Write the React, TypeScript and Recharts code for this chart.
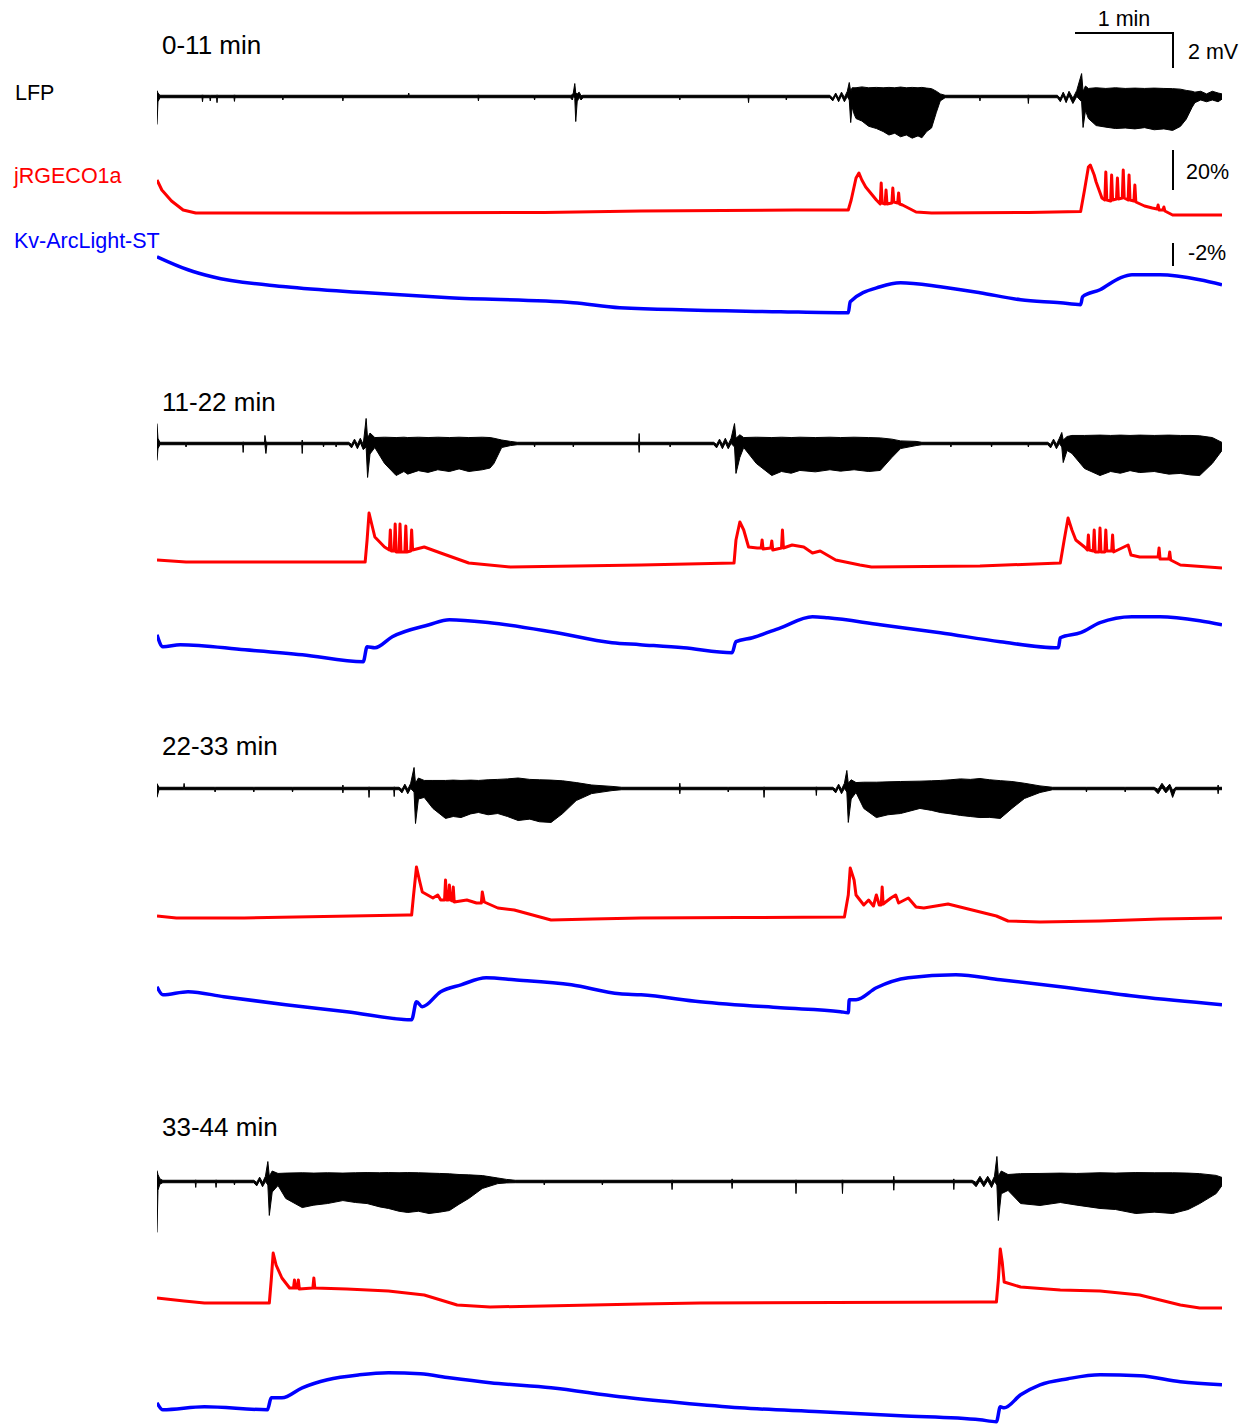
import React from 'react';
import { ComposedChart, Area, Line, XAxis, YAxis } from 'recharts';

// ---------- DATA (time in min within each 11-min window) ----------
const PANEL_TITLES = ['0-11 min', '11-22 min', '22-33 min', '33-44 min'];
const TRACE_NAMES = ['LFP', 'jRGECO1a', 'Kv-ArcLight-ST'];
const SCALE_LABELS = ['1 min', '2 mV', '20%', '-2%'];

// LFP envelopes: [t (min), low (mV), high (mV)]
const lfp1 = [
  [0, -1.6, 0.34], [0.01, -0.3, 0.2], [0.03, -0.07, 0.07],
  [0.465, -0.07, 0.07], [0.47, -0.3, 0.1], [0.475, -0.07, 0.07],
  [0.545, -0.07, 0.07], [0.55, -0.25, 0.07], [0.555, -0.07, 0.07],
  [0.615, -0.07, 0.07], [0.62, -0.35, 0.1], [0.625, -0.07, 0.07],
  [0.795, -0.07, 0.07], [0.8, -0.28, 0.1], [0.805, -0.07, 0.07],
  [1.295, -0.07, 0.07], [1.3, -0.2, 0.07], [1.305, -0.07, 0.07],
  [1.915, -0.07, 0.07], [1.92, -0.25, 0.08], [1.925, -0.07, 0.07],
  [2.595, -0.07, 0.07], [2.6, -0.07, 0.2], [2.605, -0.07, 0.07],
  [3.315, -0.07, 0.07], [3.32, -0.25, 0.1], [3.325, -0.07, 0.07],
  [3.895, -0.07, 0.07], [3.9, -0.2, 0.07], [3.905, -0.07, 0.07],
  [4.27, -0.07, 0.07], [4.29, -0.2, 0.1], [4.3, 0, 0.2], [4.315, -0.1, 0.74], [4.325, -1.43, 0.2], [4.34, -0.3, 0.15],
  [4.36, -0.05, 0.25], [4.38, -0.2, 0.05], [4.4, -0.07, 0.07],
  [5.395, -0.07, 0.07], [5.4, -0.2, 0.07], [5.405, -0.07, 0.07],
  [6.105, -0.07, 0.07], [6.11, -0.35, 0.08], [6.115, -0.07, 0.07],
  [6.495, -0.07, 0.07], [6.5, -0.2, 0.07], [6.505, -0.07, 0.07],
  [6.95, -0.07, 0.07], [6.98, -0.25, -0.1], [7.01, 0.05, 0.2], [7.04, -0.3, -0.1], [7.07, 0.05, 0.25], [7.1, -0.3, -0.05], [7.13, 0.0, 0.3],
  [7.15, -0.2, 0.8], [7.165, -1.49, 0.3], [7.18, -0.6, 0.5],
  [7.2, -1.0, 0.5], [7.22, -1.26, 0.5], [7.28, -1.4, 0.55], [7.35, -1.7, 0.5], [7.43, -1.83, 0.52], [7.5, -2.0, 0.5], [7.56, -2.2, 0.52],
  [7.62, -2.1, 0.5], [7.68, -2.3, 0.54], [7.74, -2.2, 0.5], [7.8, -2.38, 0.52], [7.86, -2.25, 0.5], [7.9, -2.36, 0.52], [7.95, -2.0, 0.48],
  [8.0, -1.8, 0.45], [8.05, -0.9, 0.3], [8.09, -0.25, 0.15], [8.14, -0.07, 0.07],
  [8.495, -0.07, 0.07], [8.5, -0.25, 0.07], [8.505, -0.07, 0.07],
  [8.995, -0.07, 0.07], [9.0, -0.4, 0.1], [9.005, -0.07, 0.07],
  [9.3, -0.07, 0.07], [9.33, -0.3, -0.1], [9.36, 0.05, 0.25], [9.39, -0.35, -0.1], [9.42, 0.05, 0.3], [9.46, -0.4, -0.1], [9.5, 0.0, 0.35],
  [9.55, -0.3, 1.31], [9.565, -1.77, 0.3], [9.59, -0.8, 0.6],
  [9.62, -1.26, 0.46], [9.7, -1.66, 0.5], [9.8, -1.75, 0.46], [9.9, -1.83, 0.5], [10.0, -1.8, 0.46], [10.1, -1.85, 0.48], [10.2, -1.78, 0.46],
  [10.3, -1.9, 0.48], [10.4, -1.85, 0.46], [10.49, -1.94, 0.45], [10.57, -1.71, 0.42], [10.63, -1.3, 0.35], [10.69, -0.63, 0.3],
  [10.72, -0.35, 0.25], [10.78, -0.2, 0.3], [10.84, -0.3, 0.15], [10.9, -0.2, 0.3], [10.96, -0.3, 0.2], [11, -0.15, 0.15],
];
const lfp2 = [
  [0, -0.97, 1.14], [0.01, -0.3, 0.3], [0.03, -0.07, 0.07],
  [0.295, -0.07, 0.07], [0.3, -0.2, 0.07], [0.305, -0.07, 0.07],
  [0.885, -0.07, 0.07], [0.89, -0.51, 0.1], [0.895, -0.07, 0.07],
  [1.11, -0.07, 0.07], [1.115, -0.1, 0.46], [1.125, -0.57, 0.1], [1.135, -0.07, 0.07],
  [1.495, -0.07, 0.07], [1.5, -0.57, 0.2], [1.505, -0.07, 0.07],
  [1.715, -0.07, 0.07], [1.72, -0.2, 0.07], [1.725, -0.07, 0.07],
  [1.845, -0.07, 0.07], [1.85, -0.2, 0.07], [1.855, -0.07, 0.07],
  [1.98, -0.07, 0.07], [2.01, -0.25, -0.05], [2.04, 0.05, 0.25], [2.07, -0.3, -0.05], [2.1, 0.05, 0.3], [2.13, -0.35, -0.05],
  [2.16, -0.2, 1.43], [2.175, -1.94, 0.3], [2.2, -0.6, 0.6],
  [2.25, -0.23, 0.34], [2.35, -1.14, 0.36], [2.47, -1.83, 0.34], [2.55, -1.6, 0.36], [2.59, -1.75, 0.34], [2.7, -1.55, 0.36], [2.8, -1.65, 0.34],
  [2.9, -1.5, 0.36], [3.02, -1.6, 0.34], [3.12, -1.45, 0.36], [3.22, -1.6, 0.34], [3.36, -1.5, 0.36], [3.44, -1.4, 0.34], [3.48, -1.14, 0.3],
  [3.56, -0.23, 0.2], [3.65, -0.12, 0.12], [3.72, -0.07, 0.07],
  [3.895, -0.07, 0.07], [3.9, -0.2, 0.07], [3.905, -0.07, 0.07],
  [4.295, -0.07, 0.07], [4.3, -0.2, 0.07], [4.305, -0.07, 0.07],
  [4.975, -0.07, 0.07], [4.98, -0.51, 0.57], [4.985, -0.07, 0.07],
  [5.295, -0.07, 0.07], [5.3, -0.2, 0.07], [5.305, -0.07, 0.07],
  [5.75, -0.07, 0.07], [5.78, -0.25, -0.05], [5.81, 0.05, 0.25], [5.84, -0.3, -0.05], [5.87, 0.05, 0.3], [5.9, -0.3, -0.05], [5.93, 0.0, 0.3],
  [5.965, -0.2, 1.14], [5.98, -1.71, 0.3], [6.02, -0.8, 0.5],
  [6.06, -0.23, 0.34], [6.19, -1.14, 0.36], [6.35, -1.83, 0.34], [6.45, -1.6, 0.36], [6.55, -1.7, 0.34], [6.64, -1.54, 0.36], [6.8, -1.62, 0.34],
  [6.95, -1.5, 0.36], [7.06, -1.58, 0.34], [7.2, -1.5, 0.36], [7.35, -1.6, 0.34], [7.47, -1.54, 0.32], [7.59, -0.8, 0.25], [7.68, -0.29, 0.15],
  [7.84, -0.12, 0.12], [7.9, -0.07, 0.07],
  [8.195, -0.07, 0.07], [8.2, -0.2, 0.07], [8.205, -0.07, 0.07],
  [8.615, -0.07, 0.07], [8.62, -0.2, 0.07], [8.625, -0.07, 0.07],
  [8.995, -0.07, 0.07], [9.0, -0.2, 0.07], [9.005, -0.07, 0.07],
  [9.2, -0.07, 0.07], [9.23, -0.25, -0.05], [9.26, 0.05, 0.25], [9.29, -0.3, -0.05], [9.32, 0.0, 0.3],
  [9.345, -0.2, 0.63], [9.36, -1.09, 0.2], [9.4, -0.4, 0.4],
  [9.45, -0.57, 0.46], [9.58, -1.43, 0.46], [9.74, -1.83, 0.48], [9.85, -1.6, 0.46], [9.95, -1.7, 0.48], [10.05, -1.55, 0.46], [10.15, -1.66, 0.48],
  [10.3, -1.6, 0.46], [10.45, -1.75, 0.48], [10.57, -1.71, 0.46], [10.68, -1.8, 0.46], [10.77, -1.83, 0.44], [10.9, -1.14, 0.34], [11, -0.4, 0.06],
];
const lfp3 = [
  [0, -0.51, 0.29], [0.02, -0.07, 0.07],
  [0.275, -0.07, 0.07], [0.28, -0.07, 0.29], [0.285, -0.07, 0.07],
  [0.595, -0.07, 0.07], [0.6, -0.2, 0.07], [0.605, -0.07, 0.07],
  [0.995, -0.07, 0.07], [1.0, -0.2, 0.07], [1.005, -0.07, 0.07],
  [1.395, -0.07, 0.07], [1.4, -0.2, 0.07], [1.405, -0.07, 0.07],
  [1.915, -0.07, 0.07], [1.92, -0.25, 0.2], [1.925, -0.07, 0.07],
  [2.185, -0.07, 0.07], [2.19, -0.51, 0.1], [2.195, -0.07, 0.07],
  [2.445, -0.07, 0.07], [2.45, -0.46, 0.1], [2.455, -0.07, 0.07],
  [2.5, -0.07, 0.07], [2.53, -0.25, -0.05], [2.56, 0.05, 0.25], [2.59, -0.3, -0.05], [2.62, 0.0, 0.3],
  [2.655, -0.2, 1.2], [2.67, -2.0, 0.3], [2.7, -0.6, 0.6],
  [2.76, -0.51, 0.46], [2.85, -1.14, 0.46], [2.98, -1.71, 0.46], [3.06, -1.6, 0.48], [3.14, -1.66, 0.46], [3.24, -1.45, 0.48], [3.32, -1.37, 0.46],
  [3.42, -1.5, 0.5], [3.52, -1.43, 0.52], [3.62, -1.6, 0.55], [3.73, -1.83, 0.6], [3.85, -1.75, 0.52], [3.95, -1.9, 0.5], [4.07, -1.94, 0.48],
  [4.19, -1.43, 0.44], [4.33, -0.69, 0.34], [4.49, -0.29, 0.2], [4.7, -0.12, 0.12], [4.8, -0.07, 0.07],
  [5.395, -0.07, 0.07], [5.4, -0.3, 0.3], [5.405, -0.07, 0.07],
  [5.895, -0.07, 0.07], [5.9, -0.2, 0.07], [5.905, -0.07, 0.07],
  [6.265, -0.07, 0.07], [6.27, -0.51, 0.1], [6.275, -0.07, 0.07],
  [6.805, -0.07, 0.07], [6.81, -0.4, 0.1], [6.815, -0.07, 0.07],
  [6.98, -0.07, 0.07], [7.01, -0.25, -0.05], [7.04, 0.05, 0.25], [7.07, -0.3, -0.05], [7.1, 0.0, 0.3],
  [7.125, -0.2, 1.03], [7.14, -1.94, 0.3], [7.17, -0.6, 0.5],
  [7.22, -0.23, 0.34], [7.3, -1.14, 0.36], [7.43, -1.66, 0.36], [7.55, -1.5, 0.38], [7.68, -1.43, 0.4], [7.88, -1.14, 0.42], [8.0, -1.25, 0.44],
  [8.09, -1.37, 0.46], [8.2, -1.45, 0.5], [8.3, -1.54, 0.55], [8.4, -1.6, 0.52], [8.5, -1.66, 0.57], [8.6, -1.65, 0.5], [8.71, -1.71, 0.45],
  [8.83, -1.14, 0.4], [8.96, -0.57, 0.3], [9.12, -0.23, 0.15], [9.25, -0.07, 0.07],
  [9.595, -0.07, 0.07], [9.6, -0.2, 0.07], [9.605, -0.07, 0.07],
  [9.995, -0.07, 0.07], [10.0, -0.2, 0.07], [10.005, -0.07, 0.07],
  [10.3, -0.07, 0.07], [10.34, -0.3, -0.05], [10.38, 0.05, 0.3], [10.42, -0.25, 0.0], [10.46, 0.0, 0.25], [10.49, -0.51, -0.1], [10.52, -0.07, 0.07],
  [10.955, -0.07, 0.07], [10.96, -0.3, 0.2], [10.965, -0.07, 0.07], [11, -0.07, 0.07],
];
const lfp4 = [
  [0, -2.91, 0.63], [0.01, -0.5, 0.4], [0.03, -0.15, 0.15], [0.06, -0.07, 0.07],
  [0.395, -0.07, 0.07], [0.4, -0.34, 0.1], [0.405, -0.07, 0.07],
  [0.605, -0.07, 0.07], [0.61, -0.34, 0.1], [0.615, -0.07, 0.07],
  [0.795, -0.07, 0.07], [0.8, -0.2, 0.07], [0.805, -0.07, 0.07],
  [1.0, -0.07, 0.07], [1.03, -0.25, -0.05], [1.06, 0.05, 0.25], [1.09, -0.3, -0.05], [1.12, 0.0, 0.3],
  [1.145, -0.2, 1.14], [1.16, -1.94, 0.3], [1.19, -0.6, 0.6],
  [1.25, -0.23, 0.46], [1.33, -0.97, 0.48], [1.5, -1.49, 0.5], [1.62, -1.35, 0.48], [1.76, -1.26, 0.5], [1.92, -1.09, 0.48], [2.05, -1.2, 0.5],
  [2.17, -1.26, 0.51], [2.3, -1.45, 0.5], [2.39, -1.54, 0.51], [2.5, -1.7, 0.5], [2.59, -1.77, 0.51], [2.7, -1.7, 0.5], [2.81, -1.83, 0.48],
  [2.92, -1.75, 0.46], [3.02, -1.66, 0.44], [3.12, -1.3, 0.4], [3.22, -0.97, 0.38], [3.36, -0.4, 0.34], [3.52, -0.12, 0.2], [3.61, -0.08, 0.12],
  [3.7, -0.07, 0.07],
  [3.995, -0.07, 0.07], [4.0, -0.2, 0.07], [4.005, -0.07, 0.07],
  [4.595, -0.07, 0.07], [4.6, -0.2, 0.07], [4.605, -0.07, 0.07],
  [5.315, -0.07, 0.07], [5.32, -0.46, 0.1], [5.325, -0.07, 0.07],
  [5.935, -0.07, 0.07], [5.94, -0.4, 0.15], [5.945, -0.07, 0.07],
  [6.595, -0.07, 0.07], [6.6, -0.69, 0.1], [6.605, -0.07, 0.07],
  [7.075, -0.07, 0.07], [7.08, -0.69, 0.1], [7.085, -0.07, 0.07],
  [7.605, -0.07, 0.07], [7.61, -0.5, 0.3], [7.615, -0.07, 0.07],
  [8.225, -0.07, 0.07], [8.23, -0.46, 0.15], [8.235, -0.07, 0.07],
  [8.42, -0.07, 0.07], [8.46, -0.3, -0.05], [8.5, 0.05, 0.3], [8.54, -0.3, -0.05], [8.58, 0.05, 0.3], [8.62, -0.35, -0.05], [8.65, 0.0, 0.3],
  [8.675, -0.2, 1.43], [8.69, -2.23, 0.3], [8.72, -0.7, 0.6],
  [8.79, -0.51, 0.4], [8.92, -1.26, 0.45], [9.12, -1.37, 0.46], [9.33, -1.2, 0.48], [9.5, -1.35, 0.46], [9.74, -1.54, 0.5], [9.9, -1.6, 0.48],
  [10.11, -1.83, 0.51], [10.3, -1.75, 0.5], [10.49, -1.83, 0.5], [10.65, -1.6, 0.48], [10.77, -1.26, 0.45], [10.94, -0.69, 0.35], [11, -0.23, 0.23],
];

// jRGECO1a dF/F (%): [t, value]
const red1 = [
  [0, 16], [0.05, 11], [0.15, 5.5], [0.27, 1], [0.4, -0.5], [2, -0.5], [4, -0.2], [5, 0.5], [6.6, 1], [7.14, 1], [7.17, 6], [7.22, 17],
  [7.25, 19.5], [7.28, 16], [7.32, 12.5], [7.43, 6], [7.47, 4], [7.48, 14.5], [7.49, 4.5], [7.52, 4], [7.53, 11], [7.54, 4], [7.59, 4.5],
  [7.6, 12], [7.61, 5], [7.65, 4.5], [7.66, 9.5], [7.67, 4], [7.7, 3.5], [7.76, 2], [7.84, 0], [8, -0.5], [9, -0.2], [9.54, 0.2], [9.58, 11],
  [9.62, 22.5], [9.64, 23.5], [9.68, 18.5], [9.7, 15], [9.76, 7], [9.79, 6], [9.8, 20], [9.81, 6], [9.85, 5.5], [9.86, 18.5], [9.87, 6],
  [9.91, 6.5], [9.92, 17], [9.93, 6.5], [9.97, 7], [9.98, 21], [9.99, 7], [10.03, 6], [10.04, 18.5], [10.05, 6], [10.09, 5.5], [10.1, 13.5],
  [10.11, 5], [10.2, 3], [10.28, 2], [10.33, 1.5], [10.34, 3.5], [10.35, 1], [10.39, 1], [10.4, 2.5], [10.41, 0.5], [10.49, -1.5], [11, -1.5],
];
const red2 = [
  [0, 1], [0.3, 0], [2.15, 0], [2.17, 11], [2.19, 24.5], [2.22, 18.5], [2.25, 12.5], [2.35, 7.5], [2.4, 6], [2.41, 16], [2.42, 5.5],
  [2.45, 5.5], [2.46, 19], [2.47, 5], [2.5, 5], [2.51, 19], [2.52, 5], [2.56, 5], [2.57, 18], [2.58, 5], [2.62, 5.5], [2.63, 16], [2.64, 6],
  [2.76, 7.5], [2.93, 4.5], [3.22, -0.5], [3.65, -2.5], [5, -1.5], [5.96, -0.5], [5.98, 11], [6.02, 20], [6.06, 16], [6.11, 7.5], [6.2, 7],
  [6.24, 7], [6.25, 11], [6.26, 6.5], [6.34, 7], [6.35, 10.5], [6.36, 6], [6.45, 7], [6.46, 16], [6.47, 7], [6.56, 8.5], [6.68, 7.5],
  [6.77, 4.5], [6.85, 5.5], [7.01, 1], [7.26, -1.5], [7.38, -2.5], [8.5, -2], [9.33, -0.5], [9.37, 11], [9.41, 22], [9.45, 16], [9.49, 11],
  [9.58, 7.5], [9.61, 6], [9.62, 13.5], [9.63, 6], [9.67, 5.5], [9.68, 16], [9.69, 5], [9.73, 5], [9.74, 17], [9.75, 5], [9.79, 5], [9.8, 16],
  [9.81, 5.5], [9.86, 5.5], [9.87, 13.5], [9.88, 5], [10.03, 8.5], [10.06, 3.5], [10.15, 2.5], [10.34, 2.5], [10.35, 7], [10.36, 1.5],
  [10.45, 1.5], [10.46, 5], [10.47, 1], [10.57, -1.5], [11, -3],
];
const red3 = [
  [0, 0.5], [0.2, -0.5], [0.9, -0.5], [2.59, 1], [2.63, 1], [2.65, 11], [2.68, 25], [2.71, 18.5], [2.74, 12.5], [2.85, 9.5], [2.9, 11],
  [2.93, 8.5], [2.97, 8.5], [2.98, 18.5], [2.99, 8.5], [3.01, 8.5], [3.02, 16], [3.03, 8.5], [3.05, 8], [3.06, 15], [3.07, 7.5], [3.2, 8.5],
  [3.3, 7], [3.35, 7], [3.36, 12.5], [3.38, 7.5], [3.52, 4.5], [3.69, 3.5], [4.07, -1.5], [4.5, -1], [5, -0.5], [6, -0.3], [7.1, 0],
  [7.14, 11], [7.16, 24.5], [7.2, 18.5], [7.22, 11], [7.3, 6], [7.35, 8.5], [7.4, 5.5], [7.43, 11], [7.46, 6], [7.48, 6], [7.49, 15],
  [7.5, 6.5], [7.58, 9.5], [7.63, 11], [7.66, 7], [7.76, 9.5], [7.84, 5], [7.92, 4.5], [8.17, 6.5], [8.42, 3.5], [8.67, 0.5], [8.79, -2],
  [9.12, -2.5], [9.74, -2], [10.36, -1], [11, -0.5],
];
const red4 = [
  [0, 2], [0.28, 0.5], [0.49, -0.5], [1.16, -0.5], [1.18, 11], [1.2, 24.5], [1.23, 18.5], [1.29, 12], [1.37, 7], [1.41, 7], [1.42, 11],
  [1.43, 7], [1.45, 7], [1.46, 11], [1.47, 6.5], [1.61, 7], [1.62, 12], [1.63, 7], [1.96, 6.5], [2.39, 5.5], [2.76, 3.5], [2.93, 1],
  [3.1, -1.5], [3.44, -2.5], [5, -1], [5.61, -0.5], [8.5, 0], [8.67, 0], [8.69, 11], [8.71, 26.5], [8.73, 20], [8.75, 10], [8.92, 7.5],
  [9.33, 6], [9.74, 5.5], [10.15, 3.5], [10.36, 1], [10.57, -1.5], [10.77, -3], [11, -3],
];

// Kv-ArcLight-ST dF/F (%): [t, value]  (negative plotted upward)
const blue1 = [
  [0, -3.74], [0.32, -2.61], [0.57, -2.0], [1.33, -1.13], [2.17, -0.61], [3.02, -0.17], [4.3, 0.26], [4.78, 0.7], [6.44, 1.04], [7.14, 1.13],
  [7.16, 0.17], [7.47, -1.13], [7.68, -1.48], [8.09, -1.13], [8.5, -0.61], [8.92, 0], [9.33, 0.26], [9.54, 0.43], [9.56, -0.26], [9.74, -0.87],
  [9.95, -1.91], [10.07, -2.17], [10.36, -2.17], [10.77, -1.74], [11, -1.3],
];
const blue2 = [
  [0, -0.43], [0.06, 0.61], [0.24, 0.43], [0.91, 0.87], [1.5, 1.3], [2.13, 1.91], [2.17, 0.61], [2.25, 0.7], [2.43, -0.26], [2.81, -1.3],
  [3.02, -1.74], [3.44, -1.48], [4.07, -0.7], [4.7, 0.26], [4.99, 0.43], [5.44, 0.7], [5.94, 1.13], [5.98, 0.17], [6.15, -0.17], [6.44, -1.04],
  [6.77, -2.0], [6.93, -1.91], [7.47, -1.3], [8.09, -0.61], [8.71, 0.17], [9.31, 0.7], [9.33, -0.17], [9.54, -0.61], [9.74, -1.48],
  [10.07, -2.0], [10.36, -2.0], [10.77, -1.65], [11, -1.3],
];
const blue3 = [
  [0, -1.13], [0.06, -0.43], [0.32, -0.7], [0.69, -0.26], [1.33, 0.43], [1.96, 1.04], [2.63, 1.74], [2.68, 0.17], [2.74, 0.61], [2.93, -0.7],
  [3.14, -1.3], [3.4, -1.91], [3.69, -1.74], [4.28, -1.3], [4.78, -0.52], [5.0, -0.43], [5.61, 0.17], [6.44, 0.7], [7.06, 1.04], [7.14, 1.13],
  [7.15, 0], [7.22, 0], [7.43, -1.04], [7.76, -1.91], [8.25, -2.17], [8.71, -1.74], [9.33, -1.13], [10.15, -0.26], [11, 0.43],
];
const blue4 = [
  [0, 0.26], [0.06, 0.87], [0.49, 0.61], [1.14, 0.87], [1.18, -0.17], [1.29, -0.17], [1.5, -1.04], [1.76, -1.74], [2.09, -2.17], [2.39, -2.35],
  [2.72, -2.26], [3.02, -1.91], [3.44, -1.48], [4.07, -1.04], [4.78, -0.26], [5.4, 0.26], [6.02, 0.7], [6.85, 1.04], [7.68, 1.39], [8.5, 1.74],
  [8.67, 1.91], [8.71, 0.61], [8.75, 0.7], [8.92, -0.43], [9.12, -1.3], [9.41, -1.83], [9.74, -2.17], [10.15, -2.09], [10.57, -1.57], [11, -1.3],
];

const LFP = [lfp1, lfp2, lfp3, lfp4];
const RED = [red1, red2, red3, red4];
const BLUE = [blue1, blue2, blue3, blue4];

// ---------- LAYOUT ----------
const W = 1247;
const H = 1427;
const X_LEFT = 157;
const X_RIGHT = 1222;
const T_DOMAIN: [number, number] = [0, 11];
const LFP_K = 17.5; // px per mV
const RED_K = 2; // px per %
const BLUE_K = 11.5; // px per %
const LFP_DOMAIN: [number, number] = [-3.2, 1.8];
const RED_DOMAIN: [number, number] = [-5, 30];
const BLUE_DOMAIN: [number, number] = [-4.5, 2.5];
const LFP_BASE = [96, 443, 788, 1181];
const RED_BASE = [212, 562, 917, 1302];
const BLUE_BASE = [300, 640, 1000, 1400];
const TITLE_Y = [45, 402, 746, 1127];
const FONT = '"Liberation Sans", Arial, Helvetica, sans-serif';

type Kind = 'lfp' | 'red' | 'blue';

function Trace({ kind, rows, base }: { kind: Kind; rows: number[][]; base: number }) {
  let domain: [number, number];
  let k: number;
  let top: number;
  let reversed = false;
  if (kind === 'lfp') {
    domain = LFP_DOMAIN; k = LFP_K; top = base - domain[1] * k;
  } else if (kind === 'red') {
    domain = RED_DOMAIN; k = RED_K; top = base - domain[1] * k;
  } else {
    domain = BLUE_DOMAIN; k = BLUE_K; top = base + domain[0] * k; reversed = true;
  }
  const height = (domain[1] - domain[0]) * k;
  const data = kind === 'lfp'
    ? rows.map((r) => ({ t: r[0], r: [r[1], r[2]] }))
    : rows.map((r) => ({ t: r[0], v: r[1] }));
  return (
    <div style={{ position: 'absolute', left: 0, top, width: W, height }}>
      <ComposedChart
        width={W}
        height={height}
        data={data}
        margin={{ top: 0, right: W - X_RIGHT, bottom: 0, left: X_LEFT }}
      >
        <XAxis type="number" dataKey="t" domain={T_DOMAIN} hide allowDataOverflow />
        <YAxis type="number" domain={domain} hide reversed={reversed} allowDataOverflow />
        {kind === 'lfp' ? (
          <Area
            type="linear"
            dataKey="r"
            stroke="#000000"
            strokeWidth={1}
            fill="#000000"
            fillOpacity={1}
            isAnimationActive={false}
            dot={false}
            activeDot={false}
          />
        ) : (
          <Line
            type={kind === 'blue' ? 'monotone' : 'linear'}
            dataKey="v"
            stroke={kind === 'red' ? '#ff0000' : '#0000ff'}
            strokeWidth={kind === 'red' ? 3 : 3.5}
            strokeLinejoin="round"
            dot={false}
            activeDot={false}
            isAnimationActive={false}
          />
        )}
      </ComposedChart>
    </div>
  );
}

export default function App() {
  return (
    <div style={{ position: 'relative', width: W, height: H, background: '#ffffff', fontFamily: FONT, overflow: 'hidden' }}>
      <style>{'body{margin:0;}'}</style>
      {[0, 1, 2, 3].map((i) => (
        <React.Fragment key={i}>
          <Trace kind="lfp" rows={LFP[i]} base={LFP_BASE[i]} />
          <Trace kind="red" rows={RED[i]} base={RED_BASE[i]} />
          <Trace kind="blue" rows={BLUE[i]} base={BLUE_BASE[i]} />
        </React.Fragment>
      ))}
      <svg width={W} height={H} style={{ position: 'absolute', left: 0, top: 0, pointerEvents: 'none' }}>
        {PANEL_TITLES.map((t, i) => (
          <text key={t} x={162} y={TITLE_Y[i]} dominantBaseline="central" fontSize={26} fill="#000" fontFamily={FONT}>{t}</text>
        ))}
        <text x={15} y={93} dominantBaseline="central" fontSize={21.5} fill="#000" fontFamily={FONT}>{TRACE_NAMES[0]}</text>
        <text x={14} y={176} dominantBaseline="central" fontSize={21.5} fill="#ff0000" fontFamily={FONT}>{TRACE_NAMES[1]}</text>
        <text x={14} y={241} dominantBaseline="central" fontSize={21.5} fill="#0000ff" fontFamily={FONT}>{TRACE_NAMES[2]}</text>
        {/* scale bars */}
        <line x1={1075} y1={33} x2={1174} y2={33} stroke="#000" strokeWidth={2} />
        <line x1={1173} y1={32} x2={1173} y2={33 + 2 * LFP_K} stroke="#000" strokeWidth={2} />
        <line x1={1173} y1={150} x2={1173} y2={150 + 20 * RED_K} stroke="#000" strokeWidth={2} />
        <line x1={1173} y1={243} x2={1173} y2={243 + 2 * BLUE_K} stroke="#000" strokeWidth={2} />
        <text x={1124} y={19} textAnchor="middle" dominantBaseline="central" fontSize={21.5} fill="#000" fontFamily={FONT}>{SCALE_LABELS[0]}</text>
        <text x={1188} y={52} dominantBaseline="central" fontSize={21.5} fill="#000" fontFamily={FONT}>{SCALE_LABELS[1]}</text>
        <text x={1186} y={172} dominantBaseline="central" fontSize={21.5} fill="#000" fontFamily={FONT}>{SCALE_LABELS[2]}</text>
        <text x={1188} y={253} dominantBaseline="central" fontSize={21.5} fill="#000" fontFamily={FONT}>{SCALE_LABELS[3]}</text>
      </svg>
    </div>
  );
}
